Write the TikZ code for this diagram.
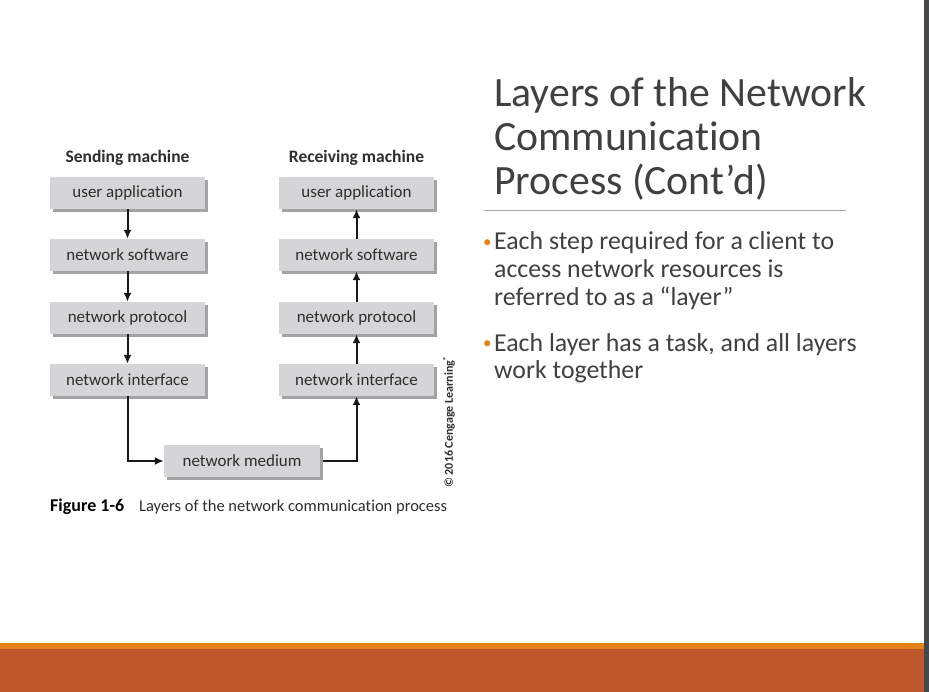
\documentclass[tikz,border=0pt]{standalone}
\usepackage{fontspec}
\setmainfont{Carlito}[Ligatures={NoCommon}]
\newfontfamily\figfont{Carlito}[Ligatures={NoCommon}]
\usetikzlibrary{arrows.meta,shadows}

\definecolor{boxfill}{HTML}{D5D5D7}
\definecolor{boxshade}{HTML}{A3A3A5}
\definecolor{figtext}{HTML}{2E2E2E}
\definecolor{slidetext}{HTML}{404040}
\definecolor{accent}{HTML}{E4821A}
\definecolor{footer}{HTML}{BE582C}
\definecolor{edgebar}{HTML}{45484A}
\definecolor{rulegray}{HTML}{A6A6A6}

\tikzset{
  layerbox/.style={
    fill=boxfill, text=figtext, minimum width=155pt, minimum height=32pt,
    inner sep=0pt, font=\figfont\fontsize{17}{19}\selectfont,
    drop shadow={shadow xshift=3pt, shadow yshift=-3pt, fill=boxshade, opacity=1}
  },
  colhead/.style={text=figtext, font=\figfont\bfseries\fontsize{17.5}{19}\selectfont, anchor=base},
  flow/.style={line width=2pt, draw=black!90, -{Latex[length=9pt,width=8pt]}},
  % multi-line blocks are anchored on the baseline of their last line
  titletext/.style={text=slidetext, font=\fontsize{41.7}{44}\selectfont, anchor=base west,
    inner sep=0pt, align=left},
  bullettext/.style={text=slidetext, font=\fontsize{25.8}{28}\selectfont, anchor=base west,
    inner sep=0pt, align=left},
  bulletdot/.style={text=accent, font=\fontsize{17}{28}\selectfont, anchor=base west, inner sep=0pt}
}

\begin{document}
\begin{tikzpicture}[x=1pt, y=-1pt]
  % page area
  \useasboundingbox (0,0) rectangle (929,692);
  \fill[white] (0,0) rectangle (929,692);

  % footer bands and right edge bar
  \fill[accent] (0,643) rectangle (924,649);
  \fill[footer] (0,649) rectangle (924,692);
  \fill[edgebar] (924,0) rectangle (929,692);

  % column headings
  \node[colhead] (shead) at (127.5,163) {Sending machine};
  \node[colhead] (rhead) at (356.5,163) {Receiving machine};

  % sending stack
  \node[layerbox] (sua) at (127.5,193) {user application};
  \node[layerbox] (sns) at (127.5,255) {network software};
  \node[layerbox] (snp) at (127.5,318) {network protocol};
  \node[layerbox] (sni) at (127.5,380) {network interface};

  % receiving stack
  \node[layerbox] (rua) at (356.5,193) {user application};
  \node[layerbox] (rns) at (356.5,255) {network software};
  \node[layerbox] (rnp) at (356.5,318) {network protocol};
  \node[layerbox] (rni) at (356.5,380) {network interface};

  % shared medium
  \node[layerbox, minimum width=156pt] (med) at (242,461) {network medium};

  % downward flow on the sender
  \draw[flow] (sua.south) -- (sns.north);
  \draw[flow] (sns.south) -- (snp.north);
  \draw[flow] (snp.south) -- (sni.north);
  \draw[flow] (sni.south) |- (med.west);

  % upward flow on the receiver
  \draw[flow] ([xshift=3pt]med.east) -| (rni.south);
  \draw[flow] (rni.north) -- (rnp.south);
  \draw[flow] (rnp.north) -- (rns.south);
  \draw[flow] (rns.north) -- (rua.south);

  % copyright line
  \node[rotate=90, text=figtext, font=\figfont\bfseries\fontsize{12}{13}\selectfont, inner sep=0pt]
    (copy) at (449,422) {© 2016 Cengage Learning\textsuperscript{®}};

  % figure caption
  \node[anchor=base west, inner sep=0pt, text=black, font=\figfont\bfseries\fontsize{18}{20}\selectfont]
    (capnum) at (50,511) {Figure 1-6};
  \node[anchor=base west, inner sep=0pt, text=figtext, font=\figfont\fontsize{16.5}{18}\selectfont]
    (captext) at (139,511) {Layers of the network communication process};

  % slide title
  \node[titletext] (title) at (494,195) {Layers of the Network\\Communication\\Process (Cont’d)};
  \draw[rulegray, line width=1pt] (484,211) -- (846,211);

  % bullet points
  \node[bulletdot] (dot1) at (483,248) {•};
  \node[bullettext] (b1) at (494,306) {Each step required for a client to\\access network resources is\\referred to as a “layer”};
  \node[bulletdot] (dot2) at (483,349) {•};
  \node[bullettext] (b2) at (494,379) {Each layer has a task, and all layers\\work together};
\end{tikzpicture}
\end{document}
